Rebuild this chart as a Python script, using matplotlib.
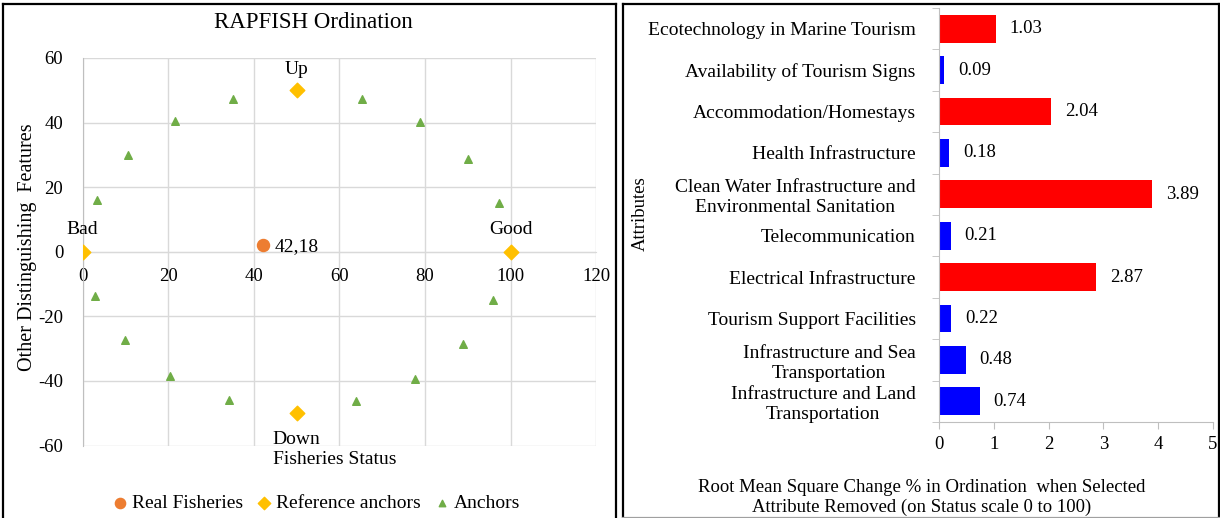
import matplotlib
matplotlib.use("Agg")
import matplotlib.pyplot as plt
from matplotlib.lines import Line2D
import numpy as np

plt.rcParams['font.family'] = ['Liberation Serif', 'DejaVu Serif']
plt.rcParams['axes.unicode_minus'] = False

# ---- ordination data ----
anchor_x = [3.4, 10.6, 21.6, 35.2, 65.2, 78.9, 90.0, 97.2,
            2.9, 9.9, 20.4, 34.2, 63.8, 77.6, 88.9, 95.9]
anchor_y = [16.0, 29.8, 40.4, 47.2, 47.2, 40.2, 28.7, 15.0,
            -13.7, -27.3, -38.5, -45.8, -46.2, -39.5, -28.6, -14.8]
ref_x = [0, 100, 50, 50]
ref_y = [0, 0, 50, -50]
ref_names = ['Bad', 'Good', 'Up', 'Down']
real_x = [42.18]
real_y = [2.0]

# ---- leverage data ----
attributes = ['Ecotechnology in Marine Tourism',
              'Availability of Tourism Signs',
              'Accommodation/Homestays',
              'Health Infrastructure',
              'Clean Water Infrastructure and\nEnvironmental Sanitation',
              'Telecommunication',
              'Electrical Infrastructure',
              'Tourism Support Facilities',
              'Infrastructure and Sea\nTransportation',
              'Infrastructure and Land\nTransportation']
rms_change = [1.03, 0.09, 2.04, 0.18, 3.89, 0.21, 2.87, 0.22, 0.48, 0.74]

W, H = 1220, 518
fig = plt.figure(figsize=(W / 100, H / 100), dpi=100)

def fx(px):
    return px / W

def fy(py):
    return 1 - py / H

# panel borders
for xs, ys, c in [([2.5, 2.5], [4, 530], 'black'),
                  ([2.5, 615.7], [4, 4], 'black'),
                  ([615.7, 615.7], [4, 530], 'black'),
                  ([623.3, 623.3], [4, 517.5], 'black'),
                  ([623.3, 1218.5], [4, 4], 'black'),
                  ([1218.5, 1218.5], [4, 517.5], 'black'),
                  ([623.3, 1218.5], [517.5, 517.5], '#A0A0A0')]:
    fig.add_artist(Line2D([fx(x) for x in xs], [fy(y) for y in ys],
                          color=c, lw=1.6, transform=fig.transFigure))

# ---- left: RAPFISH ordination ----
ax = fig.add_axes([fx(82.7), fy(445.5), fx(596.3 - 82.7), (445.5 - 57.9) / H])
ax.set_xlim(0, 120)
ax.set_ylim(-60, 60)
ax.set_xticks(np.arange(0, 121, 20))
ax.set_yticks(np.arange(-60, 61, 20))
ax.grid(True, color='#D9D9D9', lw=1)
ax.set_axisbelow(True)
for s in ax.spines.values():
    s.set_visible(False)
ax.spines['bottom'].set_visible(True)
ax.spines['bottom'].set_position(('data', 0))
ax.spines['bottom'].set_color('#D9D9D9')
ax.spines['left'].set_visible(True)
ax.spines['left'].set_color('#BFBFBF')
ax.tick_params(axis='both', length=0, labelsize=13.5)
ax.tick_params(axis='x', pad=12)
ax.tick_params(axis='y', pad=14)

ax.scatter(anchor_x, anchor_y, marker='^', s=30, color='#70AD47', zorder=3, label='Anchors')
ax.scatter(ref_x, ref_y, marker='D', s=55, color='#FFC000', zorder=3, label='Reference anchors')
ax.scatter(real_x, real_y, marker='o', s=75, color='#ED7D31', zorder=4, label='Real Fisheries')

for x, y, name in zip(ref_x, ref_y, ref_names):
    if name == 'Up':
        ax.annotate(name, (x, y), xytext=(0, 9), textcoords='offset points',
                    ha='center', va='bottom', fontsize=14)
    elif name == 'Down':
        ax.annotate(name, (x, y), xytext=(0, -13), textcoords='offset points',
                    ha='center', va='top', fontsize=14)
    else:
        ax.annotate(name, (x, y), xytext=(0, 10), textcoords='offset points',
                    ha='center', va='bottom', fontsize=14)
ax.annotate('42,18', (real_x[0], real_y[0]), xytext=(8, -1), textcoords='offset points',
            ha='left', va='center', fontsize=14)

fig.text(fx(313.5), fy(22), 'RAPFISH Ordination', ha='center', va='center', fontsize=16.5)
fig.text(fx(335), fy(460), 'Fisheries Status', ha='center', va='center', fontsize=14)
fig.text(fx(28), fy(247.5), 'Other Distinguishing  Features', ha='center', va='center',
         rotation=90, fontsize=14.5)

handles, labels = ax.get_legend_handles_labels()
order = [2, 1, 0]
fig.legend([handles[i] for i in order], [labels[i] for i in order],
           loc='center', bbox_to_anchor=(fx(316), fy(503)), ncol=3, frameon=False,
           fontsize=14, handlelength=0.8, handletextpad=0.2, columnspacing=0.7,
           markerscale=0.85)

# ---- right: leverage of attributes ----
bx = fig.add_axes([fx(939.3), fy(422), fx(1212.7 - 939.3), (422 - 8) / H])
pos = np.arange(len(attributes))
colors = ['#FF0000' if v > 1 else '#0000FF' for v in rms_change]
bx.barh(pos, rms_change, height=0.67, color=colors, edgecolor='none')
bx.set_xlim(0, 5)
bx.set_ylim(len(attributes) - 0.5, -0.5)
bx.set_yticks(pos)
bx.set_yticklabels(attributes, fontsize=14, multialignment='center')
bx.set_yticks(np.arange(-0.5, len(attributes), 1), minor=True)
bx.tick_params(axis='y', which='major', length=0, pad=17)
bx.tick_params(axis='y', which='minor', length=5, color='#BFBFBF', direction='out')
bx.tick_params(axis='x', length=5, color='#BFBFBF', labelsize=13.5, pad=5)
bx.set_xticks(np.arange(0, 6, 1))
for s in ['top', 'right']:
    bx.spines[s].set_visible(False)
for s in ['left', 'bottom']:
    bx.spines[s].set_color('#BFBFBF')
for p, v in zip(pos, rms_change):
    bx.annotate(f'{v:.2f}', (v, p), xytext=(10, 0), textcoords='offset points',
                ha='left', va='center', fontsize=13.5)

fig.text(fx(640), fy(214), 'Attributes', ha='center', va='center', rotation=90, fontsize=13.5)
fig.text(fx(922), fy(497.5),
         'Root Mean Square Change % in Ordination  when Selected\nAttribute Removed (on Status scale 0 to 100)',
         ha='center', va='center', fontsize=13.5, linespacing=1.15)

fig.savefig('out.png', dpi=100)
